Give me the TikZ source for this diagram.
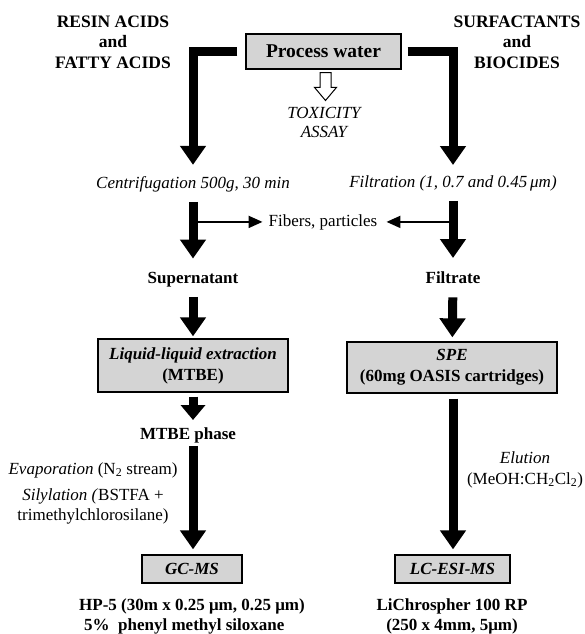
\documentclass[tikz,border=0pt]{standalone}
\usepackage{fontspec}
\setmainfont{Liberation Serif}
\usepackage{xcolor}
\usetikzlibrary{arrows.meta, shapes.arrows, positioning}
\definecolor{boxgray}{RGB}{212,212,212}

\begin{document}
\begin{tikzpicture}[x=1pt, y=-1pt,
    lbl/.style={inner sep=0pt, font=\fontsize{17}{20.5}\selectfont},
    lblb/.style={inner sep=0pt, font=\fontsize{17}{20}\selectfont\bfseries},
    lbli/.style={inner sep=0pt, font=\fontsize{17}{19}\selectfont\itshape},
    heading/.style={inner sep=0pt, align=center, anchor=north, font=\fontsize{17.5}{20.5}\selectfont\bfseries},
    stage/.style={draw, line width=1.3pt, fill=boxgray, inner sep=0pt, align=center, font=\fontsize{17}{21}\selectfont\bfseries},
    bigarrow/.style={line width=9pt, -{Triangle[width=25pt,length=19pt]}},
    midarrow/.style={line width=9pt, -{Triangle[width=24pt,length=15pt]}},
    thinarrow/.style={line width=2pt, -{Triangle[width=12pt,length=14pt]}},
    hollow/.style={single arrow, draw, fill=white, line width=1pt, inner sep=5pt,
      single arrow head extend=5.5pt, single arrow tip angle=80, minimum height=28pt}]

\useasboundingbox (0,0) rectangle (585,634);

% sample and analyte classes
\node[heading] (resin) at (113,15.5) {RESIN ACIDS\\and\\FATTY ACIDS};
\node[heading] (surf) at (517,15.5) {SURFACTANTS\\and\\BIOCIDES};
\node[stage, minimum width=155pt, minimum height=35pt,
      font=\fontsize{19.5}{22}\selectfont\bfseries] (water) at (323.5,51.5) {Process water};
\node[hollow, rotate=-90, anchor=tail] (toxarrow) at (325.5,72) {};
\node[lbli, align=center, anchor=north] (tox) at (324,107.5) {TOXICITY\\ASSAY};

% left branch
\node[lbli, anchor=base] (centr) at (193,188) {Centrifugation 500g, 30 min};
\node[lbl, anchor=base] (fib) at (323,226) {Fibers, particles};
\node[lblb, anchor=base] (super) at (193,283) {Supernatant};
\node[stage, minimum width=190pt, minimum height=53pt] (lle) at (193,365.5)
  {\textit{Liquid-liquid extraction}\\(MTBE)};
\node[lblb, anchor=base] (mtbe) at (188,439) {MTBE phase};
\node[lbl, anchor=base] (evap) at (93,474) {\textit{Evaporation} (N\textsubscript{2} stream)};
\node[lbl, align=center, anchor=north] (silyl) at (93,488) {\textit{Silylation (}BSTFA +\\trimethylchlorosilane)};
\node[stage, minimum width=100pt, minimum height=28pt, font=\fontsize{17}{21}\selectfont\bfseries\itshape] (gcms) at (192,569) {GC-MS};
\node[lblb, align=left, anchor=north west] (hp) at (79,598)
  {HP-5 (30m x 0.25 μm, 0.25 μm)\\\hspace*{5pt}5\%\ \ phenyl methyl siloxane};

% right branch
\node[lbli, anchor=base] (filt) at (453,187) {Filtration (1, 0.7 and 0.45\,μm)};
\node[lblb, anchor=base] (filtr) at (453,283) {Filtrate};
\node[stage, minimum width=210pt, minimum height=51pt] (spe) at (452,367.5)
  {\textit{SPE}\\(60mg OASIS cartridges)};
\node[lbl, align=center, anchor=north] (elu) at (525,451.5) {\textit{Elution}\\(MeOH:CH\textsubscript{2}Cl\textsubscript{2})};
\node[stage, minimum width=115pt, minimum height=28pt, font=\fontsize{17}{21}\selectfont\bfseries\itshape] (lcms) at (452.5,569) {LC-ESI-MS};
\node[lblb, align=center, anchor=north] (lichro) at (452,598) {LiChrospher 100 RP\\(250 x 4mm, 5μm)};

% arrows
\draw[bigarrow, shorten <=8pt, shorten >=11pt] (water.west) -| (centr.north);
\draw[bigarrow, shorten <=6pt, shorten >=10pt] (water.east) -| (filt.north);
\draw[bigarrow, shorten <=10pt, shorten >=13pt] (centr) -- (super);
\draw[bigarrow, shorten <=10pt, shorten >=13pt] (filt) -- (filtr);
\draw[thinarrow, shorten >=6pt] (fib.west -| centr) -- (fib.west);
\draw[thinarrow, shorten >=9pt] (fib.east -| filtr) -- (fib.east);
\draw[bigarrow, shorten <=10pt, shorten >=2pt] (super) -- (lle);
\draw[bigarrow, shorten <=14pt, shorten >=4pt] (filtr) -- (spe);
\draw[midarrow, shorten <=4pt, shorten >=7pt] (lle.south) -- (lle.south |- mtbe.north);
\draw[bigarrow, shorten <=3pt, shorten >=5pt] (mtbe.south -| super) -- (gcms.north -| super);
\draw[bigarrow, shorten <=5pt, shorten >=5pt] (spe.south -| filtr) -- (lcms.north -| filtr);

\end{tikzpicture}
\end{document}
